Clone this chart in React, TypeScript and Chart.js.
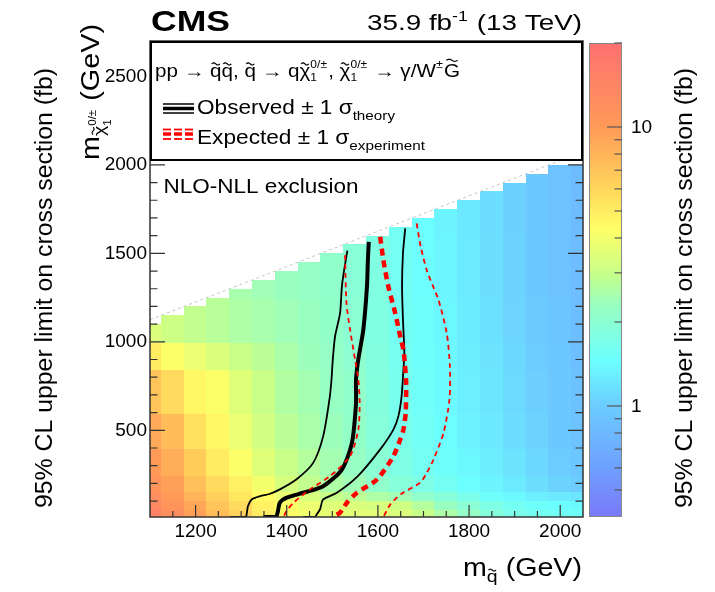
import React, { useEffect, useRef } from "react";
import { Chart, registerables } from "chart.js";

Chart.register(...registerables);

const FAM = '"Liberation Sans", Arial, Helvetica, sans-serif';

// ---------------- data ----------------
// squark mass columns (GeV), 50 GeV wide cells
const squarkMass = [1100, 1150, 1200, 1250, 1300, 1350, 1400, 1450, 1500, 1550, 1600, 1650, 1700, 1750, 1800, 1850, 1900, 1950, 2000, 2050];
// kinematic upper edge of each column (neutralino mass < squark mass)
const columnTop = [1100, 1150, 1200, 1250, 1300, 1350, 1400, 1450, 1500, 1550, 1600, 1650, 1700, 1750, 1800, 1850, 1900, 1950, 2000, 2000];
// neutralino mass band edges (GeV)
const neutralinoBandEdges = [10, 60, 110, 160, 250, 400, 600, 850, 1000, 1250, 1600, 2000];

// 95% CL upper limit on cross section (fb), one array per neutralino band
const limitBand10to60 = [15, 12, 9.5, 7.5, 6.2, 5.0, 4.4, 4.0, 3.7, 3.6, 3.6, 3.4, 3.0, 2.6, 2.2, 1.9, 1.7, 1.6, 1.55, 1.5];
const limitBand60to110 = [13, 11, 9, 7, 5.8, 4.8, 4.2, 3.8, 3.5, 3.4, 3.3, 3.1, 2.7, 2.3, 2.0, 1.75, 1.6, 1.5, 1.45, 1.4];
const limitBand110to160 = [12, 10, 8, 6.3, 5.2, 4.4, 3.8, 3.3, 3.0, 2.8, 2.6, 2.4, 2.1, 1.9, 1.7, 1.5, 1.4, 1.3, 1.25, 1.2];
const limitBand160to250 = [11, 9.5, 7.2, 5.8, 4.8, 4.0, 3.3, 2.9, 2.6, 2.4, 2.1, 1.9, 1.75, 1.6, 1.45, 1.35, 1.25, 1.15, 1.05, 1.0];
const limitBand250to400 = [10, 8.5, 6.5, 5.0, 4.2, 3.5, 3.0, 2.7, 2.45, 2.25, 2.0, 1.75, 1.6, 1.5, 1.38, 1.28, 1.18, 1.08, 1.0, 0.93];
const limitBand400to600 = [8.8, 7.5, 5.5, 4.6, 3.8, 3.2, 2.8, 2.55, 2.35, 2.15, 1.9, 1.7, 1.55, 1.45, 1.33, 1.23, 1.13, 1.05, 0.97, 0.9];
const limitBand600to850 = [7, 5.8, 4.6, 4.2, 3.5, 3.0, 2.65, 2.45, 2.25, 2.1, 1.85, 1.65, 1.52, 1.42, 1.3, 1.2, 1.1, 1.02, 0.95, 0.88];
const limitBand850to1000 = [5, 4.2, 3.8, 3.4, 3.0, 2.8, 2.55, 2.35, 2.2, 2.05, 1.82, 1.63, 1.5, 1.4, 1.28, 1.18, 1.08, 1.0, 0.93, 0.86];
const limitBand1000to1250 = [3.4, 3.1, 2.9, 2.75, 2.6, 2.5, 2.4, 2.3, 2.15, 2.0, 1.8, 1.6, 1.48, 1.38, 1.26, 1.16, 1.06, 0.98, 0.92, 0.85];
const limitBand1250to1600 = [null, null, null, null, 2.5, 2.4, 2.3, 2.2, 2.1, 1.95, 1.78, 1.6, 1.47, 1.36, 1.25, 1.15, 1.05, 0.97, 0.9, 0.84];
const limitBand1600to2000 = [null, null, null, null, null, null, null, null, null, null, null, 1.58, 1.45, 1.35, 1.24, 1.14, 1.04, 0.96, 0.9, 0.83];
const limitBands = [
  limitBand10to60, limitBand60to110, limitBand110to160, limitBand160to250, limitBand250to400,
  limitBand400to600, limitBand600to850, limitBand850to1000, limitBand1000to1250, limitBand1250to1600, limitBand1600to2000,
];

// exclusion contours (squark mass, neutralino mass) in GeV
const observed = [
  { x: 1580, y: 1565 }, { x: 1578, y: 1460 }, { x: 1576, y: 1312 }, { x: 1568, y: 1068 }, { x: 1557, y: 900 },
  { x: 1552, y: 786 }, { x: 1552, y: 654 }, { x: 1543, y: 429 }, { x: 1521, y: 278 }, { x: 1480, y: 184 },
  { x: 1436, y: 147 }, { x: 1400, y: 119 }, { x: 1385, y: 91 }, { x: 1380, y: 35 }, { x: 1376, y: 10 }, { x: 1349, y: 10 },
];
const observedMinus = [
  { x: 1533, y: 1515 }, { x: 1526, y: 1406 }, { x: 1521, y: 1312 }, { x: 1517, y: 1162 }, { x: 1506, y: 1030 },
  { x: 1501, y: 898 }, { x: 1498, y: 780 }, { x: 1494, y: 680 }, { x: 1480, y: 467 }, { x: 1458, y: 316 },
  { x: 1421, y: 222 }, { x: 1385, y: 166 }, { x: 1362, y: 140 }, { x: 1342, y: 128 }, { x: 1323, y: 109 },
  { x: 1315, y: 72 }, { x: 1312, y: 25 }, { x: 1310, y: 10 }, { x: 1276, y: 10 },
];
const observedPlus = [
  { x: 1660, y: 1641 }, { x: 1655, y: 1500 }, { x: 1653, y: 1312 }, { x: 1655, y: 1124 }, { x: 1658, y: 936 },
  { x: 1656, y: 842 }, { x: 1652, y: 692 }, { x: 1645, y: 580 }, { x: 1634, y: 504 }, { x: 1605, y: 392 },
  { x: 1556, y: 241 }, { x: 1510, y: 147 }, { x: 1480, y: 109 }, { x: 1473, y: 53 }, { x: 1466, y: 25 },
  { x: 1462, y: 10 }, { x: 1436, y: 10 },
];
const expected = [
  { x: 1605, y: 1594 }, { x: 1612, y: 1462 }, { x: 1623, y: 1312 }, { x: 1638, y: 1162 }, { x: 1649, y: 1030 },
  { x: 1656, y: 955 }, { x: 1659, y: 880 }, { x: 1662, y: 767 }, { x: 1661, y: 600 }, { x: 1656, y: 504 },
  { x: 1649, y: 448 }, { x: 1634, y: 354 }, { x: 1598, y: 222 }, { x: 1554, y: 147 }, { x: 1532, y: 91 },
  { x: 1517, y: 35 }, { x: 1500, y: 10 },
];
const expectedMinus = [
  { x: 1528, y: 1490 }, { x: 1531, y: 1218 }, { x: 1539, y: 1068 }, { x: 1550, y: 898 }, { x: 1557, y: 786 },
  { x: 1560, y: 654 }, { x: 1557, y: 504 }, { x: 1539, y: 354 }, { x: 1495, y: 241 }, { x: 1451, y: 166 },
  { x: 1415, y: 91 }, { x: 1400, y: 45 }, { x: 1393, y: 10 },
];
const expectedPlus = [
  { x: 1685, y: 1669 }, { x: 1694, y: 1537 }, { x: 1707, y: 1406 }, { x: 1720, y: 1320 }, { x: 1733, y: 1237 },
  { x: 1751, y: 1049 }, { x: 1758, y: 861 }, { x: 1757, y: 673 }, { x: 1744, y: 485 }, { x: 1722, y: 335 },
  { x: 1707, y: 259 }, { x: 1693, y: 204 }, { x: 1652, y: 142 }, { x: 1627, y: 80 }, { x: 1612, y: 10 },
];
const kinematicEdge = [{ x: 1100, y: 1125 }, { x: 2050, y: 2075 }];

const xTickValues = [1200, 1400, 1600, 1800, 2000];
const yTickValues = [500, 1000, 1500, 2000, 2500];
const colorbarLabels = [1, 10];
const Z_MIN = 0.4;
const Z_MAX = 20;

// ---------------- helpers ----------------
const STOPS: [number, number[]][] = [
  [0.0, [122, 120, 248]],
  [0.104, [110, 160, 255]],
  [0.234, [108, 204, 255]],
  [0.33, [108, 255, 255]],
  [0.447, [153, 255, 192]],
  [0.515, [200, 255, 136]],
  [0.607, [255, 255, 102]],
  [0.713, [255, 204, 90]],
  [0.823, [255, 154, 88]],
  [1.0, [255, 112, 112]],
];

function colorFor(z: number) {
  let t = (Math.log10(z) - Math.log10(Z_MIN)) / (Math.log10(Z_MAX) - Math.log10(Z_MIN));
  t = Math.max(0, Math.min(1, t));
  for (let i = 0; i < STOPS.length - 1; i++) {
    const [t0, c0] = STOPS[i];
    const [t1, c1] = STOPS[i + 1];
    if (t <= t1) {
      const f = (t - t0) / (t1 - t0);
      const c = c0.map((v, k) => Math.round(v + (c1[k] - v) * f));
      return `rgb(${c[0]},${c[1]},${c[2]})`;
    }
  }
  const c = STOPS[STOPS.length - 1][1];
  return `rgb(${c[0]},${c[1]},${c[2]})`;
}

type Part = {
  t?: string;
  size?: number;
  dy?: number;
  bold?: boolean;
  tilde?: "x" | "cap";
  sup?: string;
  sub?: string;
  ssize?: number;
  supDy?: number;
  subDy?: number;
  gap?: number;
};

function fnt(size: number, bold?: boolean) {
  return `${bold ? "bold " : ""}${size}px ${FAM}`;
}

function partWidth(ctx: CanvasRenderingContext2D, p: Part) {
  if (p.gap !== undefined) return p.gap;
  if (p.sup !== undefined) {
    ctx.font = fnt(p.ssize || 10);
    return Math.max(ctx.measureText(p.sup).width, ctx.measureText(p.sub || "").width) + 1;
  }
  ctx.font = fnt(p.size || 16, p.bold);
  return ctx.measureText(p.t || "").width;
}

function drawTilde(ctx: CanvasRenderingContext2D, cx: number, cy: number, w: number, h: number, lw: number) {
  ctx.beginPath();
  for (let i = 0; i <= 16; i++) {
    const t = i / 16;
    const x = cx - w / 2 + w * t;
    const y = cy - h * Math.sin(2 * Math.PI * t);
    if (i === 0) ctx.moveTo(x, y);
    else ctx.lineTo(x, y);
  }
  ctx.lineWidth = lw;
  ctx.stroke();
}

function drawParts(
  ctx: CanvasRenderingContext2D,
  parts: Part[],
  x: number,
  y: number,
  align: "left" | "right" | "center",
  targetW?: number
) {
  ctx.save();
  ctx.textAlign = "left";
  ctx.textBaseline = "alphabetic";
  const widths = parts.map((p) => partWidth(ctx, p));
  const natural = widths.reduce((a, b) => a + b, 0);
  const sx = targetW ? targetW / natural : 1;
  const w = natural * sx;
  const x0 = align === "right" ? x - w : align === "center" ? x - w / 2 : x;
  ctx.translate(x0, y);
  ctx.scale(sx, 1);
  ctx.fillStyle = "#000";
  ctx.strokeStyle = "#000";
  let cx = 0;
  parts.forEach((p, i) => {
    const pw = widths[i];
    if (p.gap !== undefined) {
      cx += pw;
      return;
    }
    if (p.sup !== undefined) {
      ctx.font = fnt(p.ssize || 10);
      ctx.fillText(p.sup, cx, p.supDy || 0);
      ctx.fillText(p.sub || "", cx, p.subDy || 0);
      cx += pw;
      return;
    }
    const s = p.size || 16;
    ctx.font = fnt(s, p.bold);
    ctx.fillText(p.t || "", cx, p.dy || 0);
    if (p.tilde) {
      const h = p.tilde === "cap" ? 0.9 : 0.7;
      drawTilde(ctx, cx + pw / 2, (p.dy || 0) - h * s, pw * 0.7, s * 0.06, s * 0.065);
    }
    cx += pw;
  });
  ctx.restore();
}

// ---------------- plugin ----------------
const cmsPlugin = {
  id: "cmsDecor",
  beforeDatasetsDraw(chart: any) {
    const ctx: CanvasRenderingContext2D = chart.ctx;
    const area = chart.chartArea;
    const xs = chart.scales.x;
    const ys = chart.scales.y;
    ctx.save();
    ctx.beginPath();
    ctx.rect(area.left, area.top, area.right - area.left, area.bottom - area.top);
    ctx.clip();
    limitBands.forEach((band, bi) => {
      const y0 = neutralinoBandEdges[bi];
      const y1 = neutralinoBandEdges[bi + 1];
      band.forEach((z, ci) => {
        if (z == null) return;
        const c = squarkMass[ci];
        const top = Math.min(y1, columnTop[ci]);
        if (top <= y0) return;
        const px0 = Math.floor(xs.getPixelForValue(c - 25));
        const px1 = Math.ceil(xs.getPixelForValue(c + 25));
        const pyB = Math.ceil(ys.getPixelForValue(y0));
        const pyT = Math.round(ys.getPixelForValue(top));
        ctx.fillStyle = colorFor(z as number);
        ctx.fillRect(px0, pyT, px1 - px0, pyB - pyT + 1);
      });
    });
    ctx.restore();
  },
  afterDraw(chart: any) {
    const ctx: CanvasRenderingContext2D = chart.ctx;
    const area = chart.chartArea;
    const xs = chart.scales.x;
    const ys = chart.scales.y;

    // frame
    ctx.save();
    ctx.strokeStyle = "#333";
    ctx.lineWidth = 1.5;
    ctx.strokeRect(area.left, area.top, area.right - area.left, area.bottom - area.top);

    // inward ticks
    ctx.lineWidth = 1.2;
    ctx.strokeStyle = "#333";
    for (let v = 1150; v < 2050; v += 50) {
      const px = xs.getPixelForValue(v);
      const len = v % 200 === 0 ? 12 : 6;
      ctx.beginPath();
      ctx.moveTo(px, area.bottom);
      ctx.lineTo(px, area.bottom - len);
      ctx.stroke();
    }
    for (let v = 100; v < 2700; v += 100) {
      const py = ys.getPixelForValue(v);
      const len = v % 500 === 0 ? 15 : 7.5;
      ctx.beginPath();
      ctx.moveTo(area.left, py);
      ctx.lineTo(area.left + len, py);
      ctx.moveTo(area.right, py);
      ctx.lineTo(area.right - len, py);
      ctx.stroke();
    }
    ctx.restore();

    // legend box
    ctx.save();
    ctx.fillStyle = "#fff";
    ctx.fillRect(151, 42, 431, 118);
    ctx.strokeStyle = "#000";
    ctx.lineWidth = 2;
    ctx.strokeRect(151, 42, 431, 118);

    const q = 18;
    drawParts(
      ctx,
      [
        { t: "pp ", size: q },
        { t: "→", size: q },
        { t: " ", size: q },
        { t: "q", size: q, tilde: "x" },
        { t: "q", size: q, tilde: "x" },
        { t: ", ", size: q },
        { t: "q", size: q, tilde: "x" },
        { t: " → q", size: q },
        { t: "χ", size: q, tilde: "x" },
        { sup: "0/±", sub: "1", ssize: 10.5, supDy: -8.5, subDy: 4.5 },
        { t: ", ", size: q },
        { t: "χ", size: q, tilde: "x" },
        { sup: "0/±", sub: "1", ssize: 10.5, supDy: -8.5, subDy: 4.5 },
        { t: " → γ/W", size: q },
        { sup: "±", sub: "", ssize: 11, supDy: -8.5, subDy: 0 },
        { t: "G", size: q, tilde: "cap" },
      ],
      155,
      76.5,
      "left",
      305
    );

    // legend icons
    ctx.strokeStyle = "#000";
    ctx.lineCap = "butt";
    [[104, 1.5], [108.5, 3.5], [113, 1.5]].forEach(([y, w]) => {
      ctx.lineWidth = w;
      ctx.beginPath();
      ctx.moveTo(163, y);
      ctx.lineTo(194, y);
      ctx.stroke();
    });
    ctx.strokeStyle = "#ff0000";
    [[129.5, 1.8], [134, 3.5], [139, 1.8]].forEach(([y, w]) => {
      ctx.lineWidth = w;
      [163, 174, 185].forEach((x) => {
        ctx.beginPath();
        ctx.moveTo(x, y);
        ctx.lineTo(x + 8, y);
        ctx.stroke();
      });
    });
    drawParts(
      ctx,
      [
        { t: "Observed ± 1 σ", size: 20 },
        { t: "theory", size: 13.5, dy: 6 },
      ],
      197,
      114,
      "left",
      198
    );
    drawParts(
      ctx,
      [
        { t: "Expected ± 1 σ", size: 20 },
        { t: "experiment", size: 13.5, dy: 6.5 },
      ],
      197,
      143.5,
      "left",
      228
    );
    ctx.restore();

    // NLO-NLL label
    drawParts(ctx, [{ t: "NLO-NLL exclusion", size: 20 }], 163.5, 192.5, "left", 195);

    // header
    drawParts(ctx, [{ t: "CMS", size: 30, bold: true }], 151, 31, "left", 79);
    drawParts(
      ctx,
      [
        { t: "35.9 fb", size: 22 },
        { sup: "-1", sub: "", ssize: 14, supDy: -9, subDy: 0 },
        { t: " (13 TeV)", size: 22 },
      ],
      582,
      30,
      "right",
      215
    );

    // x title
    drawParts(
      ctx,
      [
        { t: "m", size: 25 },
        { t: "q", size: 17, dy: 6, tilde: "x" },
        { t: " (GeV)", size: 25 },
      ],
      582,
      576,
      "right",
      119
    );

    // y title (rotated)
    ctx.save();
    ctx.translate(99, 24);
    ctx.rotate(-Math.PI / 2);
    drawParts(
      ctx,
      [
        { t: "m", size: 25 },
        { t: "χ", size: 17, dy: 6, tilde: "x" },
        { sup: "0/±", sub: "1", ssize: 10, supDy: -3, subDy: 12 },
        { t: " (GeV)", size: 25 },
      ],
      0,
      0,
      "right",
      136
    );
    ctx.restore();

    // colour bar
    const cbL = 589, cbR = 622, cbT = 43, cbB = 517;
    const lmin = Math.log10(Z_MIN), lmax = Math.log10(Z_MAX);
    for (let py = cbT; py < cbB; py++) {
      const f = (py + 0.5 - cbT) / (cbB - cbT);
      const z = Math.pow(10, lmax - f * (lmax - lmin));
      ctx.fillStyle = colorFor(z);
      ctx.fillRect(cbL, py, cbR - cbL, 1);
    }
    ctx.save();
    ctx.strokeStyle = "#888";
    ctx.lineWidth = 1;
    ctx.strokeRect(cbL + 0.5, cbT + 0.5, cbR - cbL - 1, cbB - cbT - 1);
    const zPix = (z: number) => cbT + ((lmax - Math.log10(z)) / (lmax - lmin)) * (cbB - cbT);
    ctx.strokeStyle = "#555";
    ctx.lineWidth = 1.2;
    const cbTicks = [0.5, 0.6, 0.7, 0.8, 0.9, 1, 2, 3, 4, 5, 6, 7, 8, 9, 10, 20];
    cbTicks.forEach((z) => {
      const py = zPix(z);
      const len = z === 1 || z === 10 ? 15 : 7.5;
      ctx.beginPath();
      ctx.moveTo(cbR, py);
      ctx.lineTo(cbR - len, py);
      ctx.stroke();
    });
    ctx.fillStyle = "#000";
    ctx.font = fnt(19);
    ctx.textAlign = "left";
    ctx.textBaseline = "middle";
    colorbarLabels.forEach((z) => {
      ctx.fillText(String(z), 631, zPix(z) + 1);
    });
    ctx.restore();

    // z titles (right and left, rotated)
    const zTitle = "95% CL upper limit on cross section (fb)";
    [692, 52].forEach((bx) => {
      ctx.save();
      ctx.translate(bx, 288);
      ctx.rotate(-Math.PI / 2);
      drawParts(ctx, [{ t: zTitle, size: 23 }], 0, 0, "center", 440);
      ctx.restore();
    });
  },
};

export default function App() {
  const ref = useRef<HTMLCanvasElement | null>(null);
  useEffect(() => {
    const canvas = ref.current;
    if (!canvas) return;
    const thin = 1.8;
    const chart = new Chart(canvas, {
      type: "scatter",
      data: {
        datasets: [
          {
            label: "edge",
            data: kinematicEdge,
            showLine: true,
            borderColor: "#c4c4c4",
            borderWidth: 1,
            borderDash: [3, 3],
            pointRadius: 0,
            clip: 0,
          },
          {
            label: "Expected -1σ",
            data: expectedMinus,
            showLine: true,
            borderColor: "#ff0000",
            borderWidth: thin,
            borderDash: [5, 4],
            pointRadius: 0,
            tension: 0.25,
            clip: 0,
          },
          {
            label: "Expected +1σ",
            data: expectedPlus,
            showLine: true,
            borderColor: "#ff0000",
            borderWidth: thin,
            borderDash: [5, 4],
            pointRadius: 0,
            tension: 0.25,
            clip: 0,
          },
          {
            label: "Expected",
            data: expected,
            showLine: true,
            borderColor: "#ff0000",
            borderWidth: 4.5,
            borderDash: [7, 5],
            pointRadius: 0,
            tension: 0.25,
            clip: 0,
          },
          {
            label: "Observed -1σ",
            data: observedMinus,
            showLine: true,
            borderColor: "#000",
            borderWidth: thin,
            pointRadius: 0,
            tension: 0.25,
            clip: 0,
          },
          {
            label: "Observed +1σ",
            data: observedPlus,
            showLine: true,
            borderColor: "#000",
            borderWidth: thin,
            pointRadius: 0,
            tension: 0.25,
            clip: 0,
          },
          {
            label: "Observed",
            data: observed,
            showLine: true,
            borderColor: "#000",
            borderWidth: 4,
            pointRadius: 0,
            tension: 0.25,
            clip: 0,
          },
        ],
      },
      options: {
        responsive: false,
        animation: false,
        devicePixelRatio: 1,
        layout: { padding: { left: 0, right: 132, top: 41, bottom: 0 } },
        plugins: {
          legend: { display: false },
          tooltip: { enabled: false },
          title: { display: false },
        },
        scales: {
          x: {
            type: "linear",
            min: 1100,
            max: 2050,
            grid: { display: false, drawTicks: false },
            border: { display: false },
            ticks: {
              font: { family: FAM, size: 19 },
              color: "#000",
              padding: 3,
              maxRotation: 0,
              autoSkip: false,
              callback: (v: any) => String(v),
            },
            afterBuildTicks: (s: any) => {
              s.ticks = xTickValues.map((v) => ({ value: v }));
            },
            afterFit: (s: any) => {
              s.height = 75;
            },
          },
          y: {
            type: "linear",
            min: 10,
            max: 2700,
            grid: { display: false, drawTicks: false },
            border: { display: false },
            ticks: {
              font: { family: FAM, size: 19 },
              color: "#000",
              padding: 3,
              autoSkip: false,
              callback: (v: any) => String(v),
            },
            afterBuildTicks: (s: any) => {
              s.ticks = yTickValues.map((v) => ({ value: v }));
            },
            afterFit: (s: any) => {
              s.width = 150;
            },
          },
        },
      } as any,
      plugins: [cmsPlugin],
    });
    return () => chart.destroy();
  }, []);
  return (
    <div style={{ position: "fixed", left: 0, top: 0, width: 715, height: 592, background: "#fff" }}>
      <canvas ref={ref} width={715} height={592} style={{ width: 715, height: 592, display: "block" }} />
    </div>
  );
}
